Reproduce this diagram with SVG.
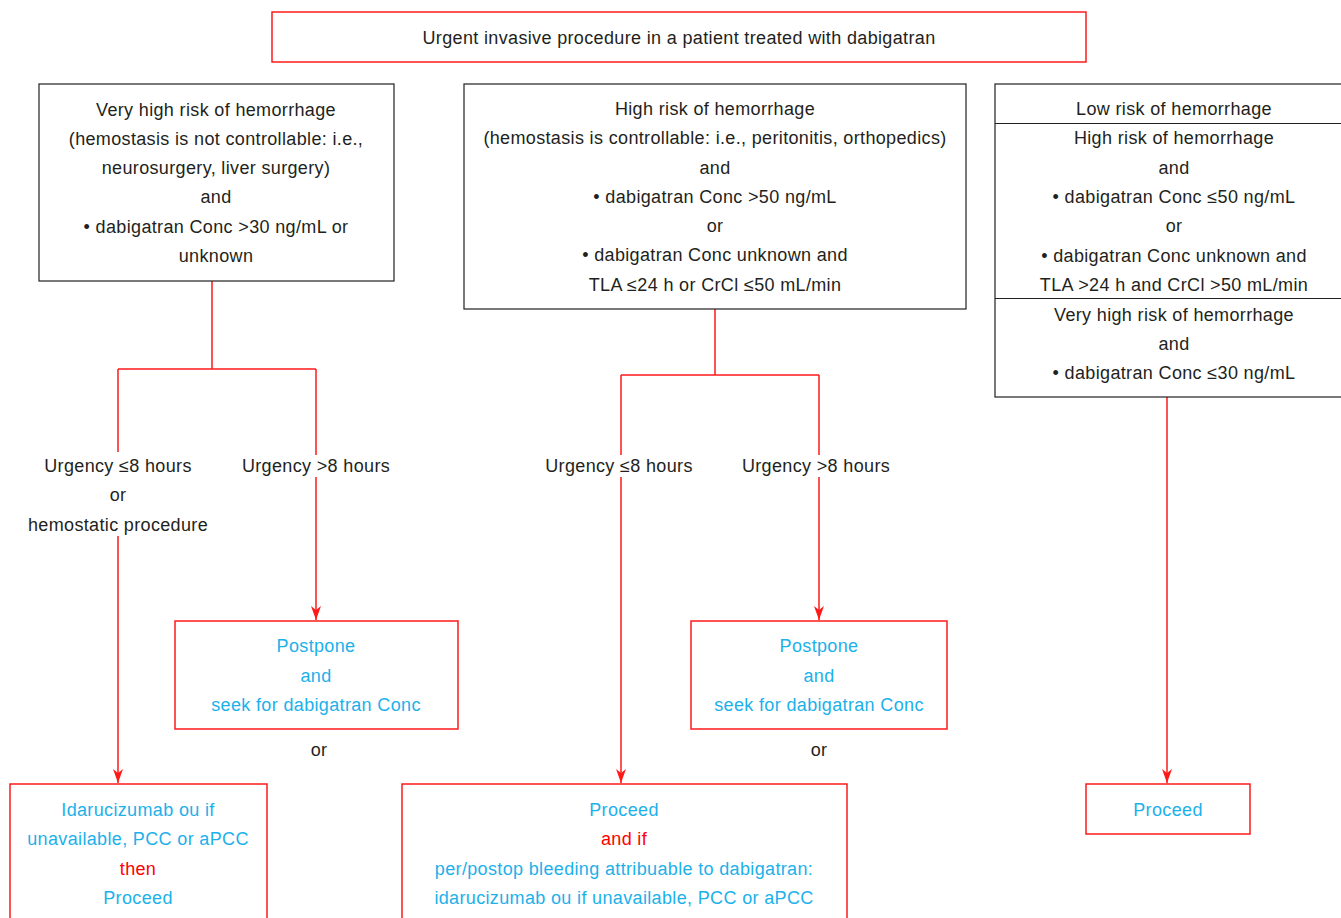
<svg xmlns="http://www.w3.org/2000/svg" width="1341" height="918" viewBox="0 0 1341 918">
<style>
text{font-family:"Liberation Sans",Arial,sans-serif;font-size:18px;letter-spacing:0.35px;text-anchor:middle;fill:#231f20}
.b{fill:#1cb1ea}
.r{fill:#ff0000}
.bx{fill:#fff;stroke:#231f20;stroke-width:1.2}
.rx{fill:#fff;stroke:#ff1a1a;stroke-width:1.5}
.c{fill:none;stroke:#ff1a1a;stroke-width:1.5}
</style>
<defs>
<marker id="ah" viewBox="0 0 14 12" refX="14" refY="6" markerWidth="14" markerHeight="12" markerUnits="userSpaceOnUse" orient="auto">
<path d="M0,1 L14,6 L0,11 L4,6 Z" fill="#ff1a1a"/>
</marker>
</defs>
<rect width="1341" height="918" fill="#fff"/>
<g id="connectors">
<path class="c" d="M212,281 V369 M118,369 H316 M118,369 V452 M316,369 V455"/>
<path class="c" d="M118,536 V783" marker-end="url(#ah)"/>
<path class="c" d="M316,477 V620" marker-end="url(#ah)"/>
<path class="c" d="M715,309 V375 M621,375 H819 M621,375 V455 M819,375 V455"/>
<path class="c" d="M621,477 V783" marker-end="url(#ah)"/>
<path class="c" d="M819,477 V620" marker-end="url(#ah)"/>
<path class="c" d="M1167,397 V783" marker-end="url(#ah)"/>
</g>
<g id="top">
<rect class="rx" x="272" y="12" width="814" height="50"/>
<text x="679" y="44">Urgent invasive procedure in a patient treated with dabigatran</text>
</g>
<g id="left">
<rect class="bx" x="39" y="84" width="355" height="197"/>
<text x="216" y="116">Very high risk of hemorrhage</text>
<text x="216" y="145">(hemostasis is not controllable: i.e.,</text>
<text x="216" y="174">neurosurgery, liver surgery)</text>
<text x="216" y="203">and</text>
<text x="216" y="233">• dabigatran Conc &gt;30 ng/mL or</text>
<text x="216" y="262">unknown</text>
</g>
<g id="middle">
<rect class="bx" x="464" y="84" width="502" height="225"/>
<text x="715" y="115">High risk of hemorrhage</text>
<text x="715" y="144">(hemostasis is controllable: i.e., peritonitis, orthopedics)</text>
<text x="715" y="174">and</text>
<text x="715" y="203">• dabigatran Conc &gt;50 ng/mL</text>
<text x="715" y="232">or</text>
<text x="715" y="261">• dabigatran Conc unknown and</text>
<text x="715" y="291">TLA ≤24 h or CrCl ≤50 mL/min</text>
</g>
<g id="right">
<rect class="bx" x="995" y="84" width="360" height="313"/>
<path d="M995,123.5 H1341 M995,298.5 H1341" stroke="#231f20" stroke-width="1.2"/>
<text x="1174" y="115">Low risk of hemorrhage</text>
<text x="1174" y="144">High risk of hemorrhage</text>
<text x="1174" y="174">and</text>
<text x="1174" y="203">• dabigatran Conc ≤50 ng/mL</text>
<text x="1174" y="232">or</text>
<text x="1174" y="262">• dabigatran Conc unknown and</text>
<text x="1174" y="291">TLA &gt;24 h and CrCl &gt;50 mL/min</text>
<text x="1174" y="321">Very high risk of hemorrhage</text>
<text x="1174" y="350">and</text>
<text x="1174" y="379">• dabigatran Conc ≤30 ng/mL</text>
</g>
<g id="labels">
<text x="118" y="472">Urgency ≤8 hours</text>
<text x="118" y="501">or</text>
<text x="118" y="531">hemostatic procedure</text>
<text x="316" y="472">Urgency &gt;8 hours</text>
<text x="619" y="472">Urgency ≤8 hours</text>
<text x="816" y="472">Urgency &gt;8 hours</text>
<text x="319" y="756">or</text>
<text x="819" y="756">or</text>
</g>
<g id="postpone-left">
<rect class="rx" x="175" y="621" width="283" height="108"/>
<text class="b" x="316" y="652">Postpone</text>
<text class="b" x="316" y="682">and</text>
<text class="b" x="316" y="711">seek for dabigatran Conc</text>
</g>
<g id="postpone-middle">
<rect class="rx" x="691" y="621" width="256" height="108"/>
<text class="b" x="819" y="652">Postpone</text>
<text class="b" x="819" y="682">and</text>
<text class="b" x="819" y="711">seek for dabigatran Conc</text>
</g>
<g id="reverse-left">
<rect class="rx" x="10" y="784" width="257" height="150"/>
<text class="b" x="138" y="816">Idarucizumab ou if</text>
<text class="b" x="138" y="845">unavailable, PCC or aPCC</text>
<text class="r" x="138" y="875">then</text>
<text class="b" x="138" y="904">Proceed</text>
</g>
<g id="proceed-middle">
<rect class="rx" x="402" y="784" width="445" height="150"/>
<text class="b" x="624" y="816">Proceed</text>
<text class="r" x="624" y="845">and if</text>
<text class="b" x="624" y="875">per/postop bleeding attribuable to dabigatran:</text>
<text class="b" x="624" y="904">idarucizumab ou if unavailable, PCC or aPCC</text>
</g>
<g id="proceed-right">
<rect class="rx" x="1086" y="784" width="164" height="50"/>
<text class="b" x="1168" y="816">Proceed</text>
</g>
</svg>
